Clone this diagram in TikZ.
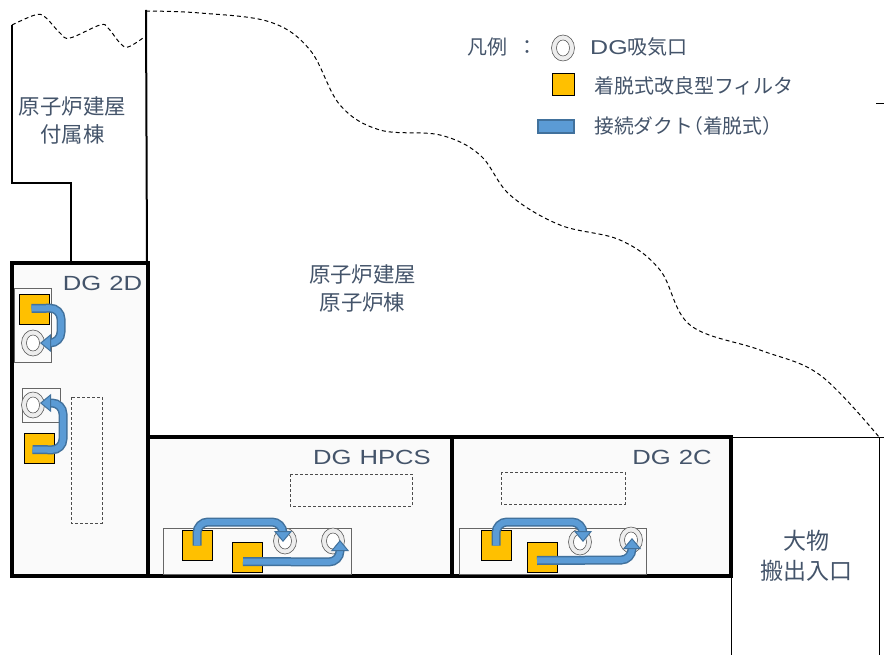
\documentclass[tikz,border=0pt]{standalone}
\usepackage{fontspec}
\setmainfont{Noto Sans CJK JP}
\newfontfamily\latinfont[FakeStretch=1.25]{Liberation Sans}
\usepackage{tikz}
\usetikzlibrary{arrows.meta,shapes.geometric}
\definecolor{labelgray}{HTML}{44546A}
\definecolor{filterorange}{HTML}{FFC000}
\definecolor{ductblue}{HTML}{5B9BD5}
\definecolor{ductedge}{HTML}{41719C}
\tikzset{
  room/.style={line width=3.8pt,fill=black!2},
  outerwall/.style={line width=2pt},
  thinwall/.style={line width=0.8pt},
  boundary/.style={line width=1pt,dash pattern=on 4pt off 3pt},
  hatchbox/.style={densely dashed,line width=0.7pt,draw=black!70},
  basebox/.style={draw=black!60,line width=0.7pt},
  filterbox/.style={draw=black,fill=filterorange,line width=1pt,minimum size=30pt,inner sep=0pt},
  inlet/.style={ellipse,draw=black!65,fill=black!7,line width=0.6pt,minimum width=23pt,minimum height=26pt,inner sep=0pt},
  inletcore/.style={ellipse,draw=black!65,fill=white,line width=0.6pt,minimum width=13pt,minimum height=16pt,inner sep=0pt},
  duct/.style={line width=6pt,draw=ductblue,rounded corners=11pt,
    -{Triangle[length=11pt,width=18pt,fill=ductblue,color=ductedge,line width=1pt]},
    preaction={draw=ductedge,line width=9pt,-,shorten >=9pt}},
  txt/.style={text=labelgray,font=\fontsize{20pt}{28pt}\selectfont,align=center,inner sep=0pt},
  bigtxt/.style={txt,font=\fontsize{21.4pt}{28pt}\selectfont},
  doortxt/.style={txt,font=\fontsize{23pt}{30pt}\selectfont},
  dgname/.style={text=labelgray,font=\latinfont\fontsize{20.5pt}{24pt}\selectfont,inner sep=0pt}
}
\begin{document}
\begin{tikzpicture}[x=1pt,y=-1pt]
  \useasboundingbox (0,0) rectangle (884,655);
  %% Building outline
  \draw[outerwall] (12,25) -- (12,183) -- (71,183) -- (71,263);
  \draw[outerwall] (146,10) -- (147,263);
  \draw[thinwall] (731,576) -- (731,655);
  \draw[thinwall] (731,437) -- (884,437);
  \draw[thinwall] (879,437) -- (879,655);
  \draw[thinwall] (876,103) -- (884,103);
  %% Dashed boundaries
  \draw[boundary] plot[smooth,tension=0.6] coordinates {(12,25) (35,15) (45,17) (60,33) (70,38) (100,25) (108,28) (120,43) (128,47) (143,38)};
  \draw[boundary] plot[smooth,tension=0.6] coordinates {(146,11) (200,13) (270,22) (310,50) (340,105) (380,130) (440,135) (480,155) (510,195) (560,225) (620,240) (660,270) (690,325) (760,350) (820,375) (879,437)};
  %% DG rooms
  \draw[room] (12,263) rectangle (148,576);
  \draw[room] (148,437) rectangle (452,576);
  \draw[room] (452,437) rectangle (731,576);
  %% Bases and dashed boxes
  \draw[basebox] (14,288) rectangle (51,362);
  \draw[basebox] (22,388) rectangle (60,422);
  \draw[basebox] (163,528) rectangle (351,574);
  \draw[basebox] (459,528) rectangle (646,574);
  \draw[hatchbox] (71,397) rectangle (102,523);
  \draw[hatchbox] (290,474) rectangle (412,506);
  \draw[hatchbox] (501,472) rectangle (625,504);
  %% Air inlets
  \foreach \n/\x/\y in {ia/33/343,ib/33/405,ic/285/541,id/333/541,ie/580/542,if/631/540,ileg/563/48}{
    \node[inlet] (\n) at (\x,\y) {};
    \node[inletcore] at (\n) {};
  }
  %% Filters
  \node[filterbox] (fa) at (34.5,309.5) {};
  \node[filterbox] (fb) at (39.5,448.5) {};
  \node[filterbox] (fc) at (197,545.5) {};
  \node[filterbox] (fd) at (247,557.5) {};
  \node[filterbox] (fe) at (496,545.5) {};
  \node[filterbox] (ff) at (542,557.5) {};
  \node[filterbox,minimum size=22pt] (fleg) at (563,85) {};
  %% Ducts
  \draw[duct] ([shift={(-3,-1)}]fa.center) -- (61,308) -- (61,343) -- ([shift={(7,0)}]ia.center);
  \draw[duct] ([shift={(-7,1)}]fb.center) -- (63,450) -- (63,403) -- ([shift={(7,-2)}]ib.center);
  \draw[duct] (fc.center) -- (197,522) -- (283,522) -- ([shift={(-2,1)}]ic.center);
  \draw[duct] ([shift={(-4,4)}]fd.center) -- (340,562) -- ([shift={(7,-1)}]id.center);
  \draw[duct] (fe.center) -- (496,522) -- (583,522) -- ([shift={(3,0)}]ie.center);
  \draw[duct] ([shift={(-5,3)}]ff.center) -- (632,560) -- ([shift={(1,-2)}]if.center);
  %% Labels
  \node[dgname] (n2d) at (102.5,283) {DG\hspace{8pt}2D};
  \node[dgname] (nhpcs) at (372,457) {DG\hspace{8pt}HPCS};
  \node[dgname] (n2c) at (672,457) {DG\hspace{8pt}2C};
  \node[bigtxt] (tfuzoku) at (72.5,120.5) {原子炉建屋\\付属棟};
  \node[bigtxt] (tgenshi) at (362.5,288) {原子炉建屋\\原子炉棟};
  \node[doortxt] (tdoor) at (806,556) {大物\\搬出入口};
  %% Legend
  \node[txt,anchor=west] (lhead) at (467,47) {凡例\hspace{10pt}：};
  \node[txt,anchor=west] (linlet) at (590,47) {{\latinfont DG}吸気口};
  \node[txt,anchor=west] (lfilter) at (594,86) {着脱式改良型フィルタ};
  \node[draw=ductedge,line width=2pt,fill=ductblue,minimum width=36pt,minimum height=13pt,inner sep=0pt] (lduct) at (556,126.5) {};
  \node[txt,anchor=west,font=\fontsize{19.8pt}{26pt}\selectfont] (lductt) at (594,126) {接続ダクト\hspace{-10pt}（着脱式）};
\end{tikzpicture}
\end{document}
